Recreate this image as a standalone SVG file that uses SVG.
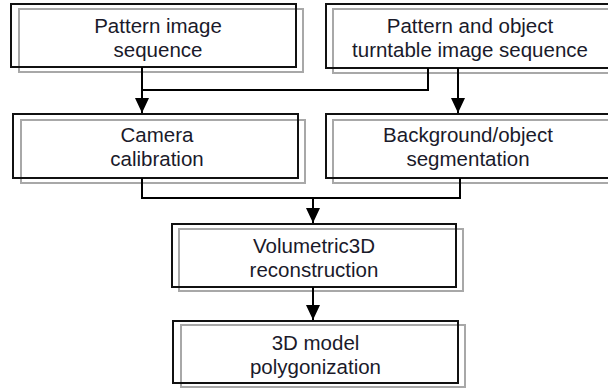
<svg xmlns="http://www.w3.org/2000/svg" width="608" height="389" viewBox="0 0 608 389">
<defs>
<style>
.b{fill:none;stroke:#111;stroke-width:2}
.g{fill:none;stroke:#a8a8a8;stroke-width:2}
.t{font-family:"Liberation Sans",Arial,sans-serif;font-size:20.5px;fill:#1a1a2a;text-anchor:middle}
.c{fill:none;stroke:#000;stroke-width:2}
</style>
<marker id="ah" markerUnits="userSpaceOnUse" markerWidth="15" markerHeight="14" refX="15" refY="7" orient="auto">
<path d="M0,0 L15,7 L0,14 z" fill="#000"/>
</marker>
</defs>
<rect width="608" height="389" fill="#fff"/>
<g id="n1">
<rect class="g" x="19" y="9" width="284" height="63"/>
<rect class="b" x="11" y="4" width="285" height="63"/>
<text class="t" x="158" y="33">Pattern image</text>
<text class="t" x="158" y="57">sequence</text>
</g>
<g id="n2">
<rect class="g" x="333" y="9" width="290" height="64"/>
<rect class="b" x="326" y="4" width="290" height="64"/>
<text class="t" x="470" y="33">Pattern and object</text>
<text class="t" x="470" y="57">turntable image sequence</text>
</g>
<g id="n3">
<rect class="g" x="21" y="120" width="284" height="63"/>
<rect class="b" x="13" y="114" width="285" height="64"/>
<text class="t" x="157" y="142">Camera</text>
<text class="t" x="157" y="166">calibration</text>
</g>
<g id="n4">
<rect class="g" x="333" y="120" width="290" height="63"/>
<rect class="b" x="326" y="114" width="290" height="64"/>
<text class="t" x="468" y="142">Background/object</text>
<text class="t" x="468" y="166">segmentation</text>
</g>
<g id="n5">
<rect class="g" x="179" y="229" width="284" height="62"/>
<rect class="b" x="172" y="224" width="284" height="63"/>
<text class="t" x="314" y="253">Volumetric3D</text>
<text class="t" x="314" y="277">reconstruction</text>
</g>
<g id="n6">
<rect class="g" x="181" y="325" width="284" height="62"/>
<rect class="b" x="173" y="321" width="285" height="62"/>
<text class="t" x="315.5" y="350">3D model</text>
<text class="t" x="315.5" y="374">polygonization</text>
</g>
<g id="connectors">
<line class="c" x1="142" y1="67" x2="142" y2="113" marker-end="url(#ah)"/>
<polyline class="c" points="428,68 428,90 142,90"/>
<line class="c" x1="458" y1="68" x2="458" y2="113" marker-end="url(#ah)"/>
<polyline class="c" points="142,178 142,198 460,198 460,178"/>
<line class="c" x1="313" y1="198" x2="313" y2="223" marker-end="url(#ah)"/>
<line class="c" x1="313" y1="287" x2="313" y2="320" marker-end="url(#ah)"/>
</g>
</svg>
